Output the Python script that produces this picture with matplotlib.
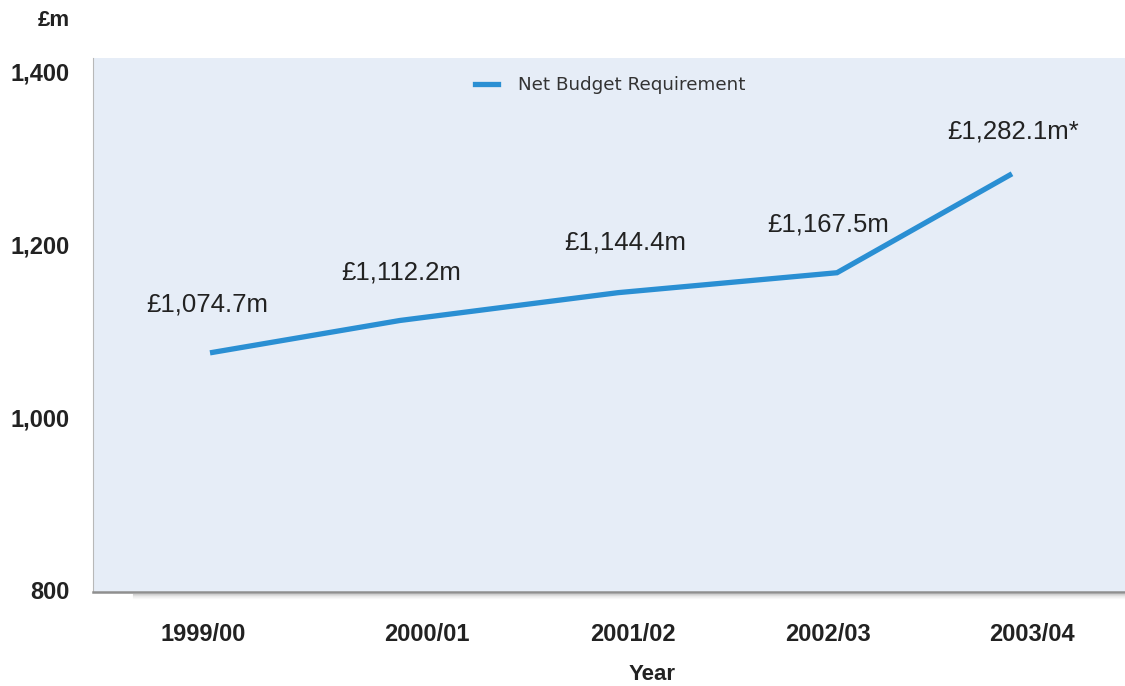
import matplotlib
matplotlib.use("Agg")
import matplotlib.pyplot as plt
from matplotlib.lines import Line2D

# Net budget requirement by financial year (£m)
years = ["1999/00", "2000/01", "2001/02", "2002/03", "2003/04"]
net_budget = [1074.7, 1112.2, 1144.4, 1167.5, 1282.1]
value_labels = ["£1,074.7m", "£1,112.2m", "£1,144.4m", "£1,167.5m", "£1,282.1m*"]
y_ticks = [800, 1000, 1200, 1400]
y_tick_labels = ["800", "1,000", "1,200", "1,400"]

# horizontal layout (figure pixel columns)
point_x = [210, 400, 618, 837, 1012]
year_label_x = [203, 427, 633, 828, 1032]
value_label_x = [207, 401, 625, 828, 1013]
value_label_off = [48, 48, 50, 48, 42]

W, H, DPI = 1125, 686, 100
fig = plt.figure(figsize=(W / DPI, H / DPI), dpi=DPI)
fig.patch.set_facecolor("white")

left_px, top_px, bottom_px = 93, 58, 592
ax = fig.add_axes([left_px / W, 1 - bottom_px / H, 1 - left_px / W, (bottom_px - top_px) / H])
ax.set_facecolor("#e6edf7")

px_per_unit = (590 - 72) / 600.0
ymin = 800 - (bottom_px - 590) / px_per_unit
ymax = 1400 + (72 - top_px) / px_per_unit
ax.set_ylim(ymin, ymax)
ax.set_xlim(left_px, W)

line_color = "#2a8fd3"
ax.plot(point_x, net_budget, color=line_color, lw=3.8, solid_capstyle="butt",
        solid_joinstyle="miter", zorder=3)

for x, v, lab, off in zip(value_label_x, net_budget, value_labels, value_label_off):
    ax.annotate(lab, (x, v), xytext=(0, off * 72 / DPI), textcoords="offset points",
                ha="center", va="center", fontsize=18.5, color="#222222",
                family="Liberation Sans")

ax.set_yticks(y_ticks)
ax.set_yticklabels(y_tick_labels)
ax.set_xticks(year_label_x)
ax.set_xticklabels(years)
ax.tick_params(axis="both", length=0, labelsize=17, labelcolor="#222222")
ax.tick_params(axis="y", pad=16.5)
ax.tick_params(axis="x", pad=22)
for lab in ax.get_xticklabels() + ax.get_yticklabels():
    lab.set_fontweight("bold")
    lab.set_family("Liberation Sans")

for side in ["top", "right"]:
    ax.spines[side].set_visible(False)
ax.spines["left"].set_color("#b8b8b8")
ax.spines["left"].set_linewidth(0.8)
ax.spines["bottom"].set_color("#8f8f8f")
ax.spines["bottom"].set_linewidth(1.8)

# soft shadow under the plot panel
for i, a in enumerate([0.45, 0.3, 0.18, 0.1, 0.05]):
    yy = 1 - (bottom_px + 2 + i) / H
    fig.add_artist(Line2D([(left_px + 40) / W, 1], [yy, yy], transform=fig.transFigure,
                          color="#9a9a9a", alpha=a, lw=0.8))

fig.text(70 / W, 1 - 20 / H, "£m", ha="right", va="center", fontsize=16,
         fontweight="bold", color="#222222", family="Liberation Sans")
fig.text(652 / W, 1 - 674 / H, "Year", ha="center", va="center", fontsize=16,
         fontweight="bold", color="#222222", family="Liberation Sans")

leg = ax.legend([Line2D([], [], color=line_color, lw=3.8)], ["Net Budget Requirement"],
                loc="center", bbox_to_anchor=((610 - left_px) / (W - left_px), (bottom_px - 85) / (bottom_px - top_px)),
                frameon=False, handlelength=1.26, handletextpad=1.09,
                prop={"family": "DejaVu Sans", "size": 13.2})
for t in leg.get_texts():
    t.set_color("#333333")

fig.savefig("out.png", dpi=DPI, facecolor=fig.get_facecolor())
